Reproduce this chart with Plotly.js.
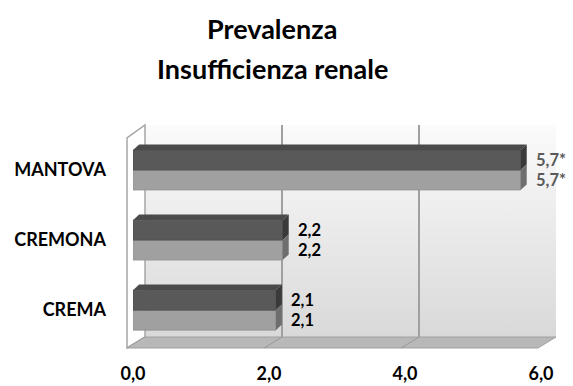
<!DOCTYPE html>
<html>
<head>
<meta charset="utf-8">
<script src="https://cdn.plot.ly/plotly-3.0.1.min.js"></script>
<style>html,body{margin:0;padding:0;background:#fff;}#chart{width:573px;height:386px;}</style>
</head>
<body>
<div id="chart"></div>
<script>
// ---- data ----
const categories = ['CREMA', 'CREMONA', 'MANTOVA'];
const seriesDark = [2.1, 2.2, 5.7];
const seriesLight = [2.1, 2.2, 5.7];
const labelsDark = ['2,1', '2,2', '5,7*'];
const labelsLight = ['2,1', '2,2', '5,7*'];
const labelColors = ['#000000', '#000000', '#5a5a5a'];
const xTickVals = [0, 2, 4, 6];
const xTickText = ['0,0', '2,0', '4,0', '6,0'];
const titleLines = ['Prevalenza', 'Insufficienza renale'];

// ---- geometry (pixels) ----
const W = 573, H = 386;
const L = 133, R = 556, T = 125, B = 348;
const pw = R - L, ph = B - T;
const px = p => (p - L) / pw;
const py = p => (B - p) / ph;
const FONT = 'Lato, "Open Sans", sans-serif';

const backX = [px(145), 1];
const backY = [py(337), 1];
const frontX = [0, px(541)];
const frontY = [0, py(135)];

const BARGAP = 0.43;
const barW = (1 - BARGAP) / 2;   // width of one bar in category units
const DX = 0.09, DY = 0.08;       // 3D depth of bars (data units)

const grad = 'data:image/svg+xml;utf8,' + encodeURIComponent(
  '<svg xmlns="http://www.w3.org/2000/svg" width="100" height="100" preserveAspectRatio="none">' +
  '<defs><linearGradient id="g" x1="0" y1="0" x2="0" y2="1">' +
  '<stop offset="0" stop-color="#fbfbfb"/><stop offset="1" stop-color="#d9d9d9"/></linearGradient></defs>' +
  '<rect width="100" height="100" fill="url(#g)"/></svg>');

const traces = [
  {x: [null], y: [null], xaxis: 'x', yaxis: 'y', type: 'scatter', mode: 'markers', showlegend: false, hoverinfo: 'skip'},
  {type: 'bar', orientation: 'h', y: categories, x: seriesLight, xaxis: 'x2', yaxis: 'y2',
   marker: {color: '#a0a0a0', line: {color: '#929292', width: 0.8}}, showlegend: false, hoverinfo: 'skip'},
  {type: 'bar', orientation: 'h', y: categories, x: seriesDark, xaxis: 'x2', yaxis: 'y2',
   marker: {color: '#595959', line: {color: '#4e4e4e', width: 0.8}}, showlegend: false, hoverinfo: 'skip'}
];

const annotations = [];
categories.forEach((c, i) => {
  annotations.push({xref: 'x2', yref: 'y2', x: seriesDark[i], y: c, text: labelsDark[i], showarrow: false,
    xanchor: 'left', yanchor: 'middle', xshift: 14, yshift: 10.5, borderpad: 0,
    font: {family: FONT, size: 16.5, color: labelColors[i], weight: 'bold'}});
  annotations.push({xref: 'x2', yref: 'y2', x: seriesLight[i], y: c, text: labelsLight[i], showarrow: false,
    xanchor: 'left', yanchor: 'middle', xshift: 14, yshift: -10, borderpad: 0,
    font: {family: FONT, size: 16.5, color: labelColors[i], weight: 'bold'}});
});
annotations.push({xref: 'paper', yref: 'paper', x: px(272), y: py(28), text: titleLines[0], showarrow: false,
  xanchor: 'center', yanchor: 'middle', font: {family: FONT, size: 27, color: '#000', weight: 'bold'}});
annotations.push({xref: 'paper', yref: 'paper', x: px(272), y: py(69), text: titleLines[1], showarrow: false,
  xanchor: 'center', yanchor: 'middle', font: {family: FONT, size: 27, color: '#000', weight: 'bold'}});

const P = (a, b) => px(a) + ',' + py(b);
const shapes = [
  // left side wall
  {type: 'path', xref: 'paper', yref: 'paper', layer: 'below',
   path: 'M' + P(127, 348) + ' L' + P(127, 138) + ' L' + P(145, 125) + ' L' + P(145, 337) + ' Z',
   fillcolor: '#ffffff', line: {color: '#a6a6a6', width: 1.5}},
  // floor
  {type: 'path', xref: 'paper', yref: 'paper', layer: 'below',
   path: 'M' + P(127, 348) + ' L' + P(538, 348) + ' L' + P(556, 337) + ' L' + P(145, 337) + ' Z',
   fillcolor: '#b8b8b8', line: {color: '#a0a0a0', width: 1}},
  {type: 'line', xref: 'paper', yref: 'paper', layer: 'below', x0: px(264), y0: py(348), x1: px(282), y1: py(337), line: {color: '#999', width: 1}},
  {type: 'line', xref: 'paper', yref: 'paper', layer: 'below', x0: px(401), y0: py(348), x1: px(419), y1: py(337), line: {color: '#999', width: 1}}
];

// 3D faces of the bars, positioned from the data through the axes
categories.forEach((c, i) => {
  const vd = seriesDark[i], vl = seriesLight[i];
  const top = i + barW, mid = i, bot = i - barW;
  shapes.push({type: 'path', xref: 'x2', yref: 'y2', layer: 'above',
    path: `M0,${top} L${vd},${top} L${vd + DX},${top + DY} L${DX},${top + DY} Z`,
    fillcolor: '#4b4b4b', line: {width: 0}});
  shapes.push({type: 'path', xref: 'x2', yref: 'y2', layer: 'above',
    path: `M${vd},${mid} L${vd},${top} L${vd + DX},${top + DY} L${vd + DX},${mid + DY} Z`,
    fillcolor: '#3a3a3a', line: {width: 0}});
  shapes.push({type: 'path', xref: 'x2', yref: 'y2', layer: 'above',
    path: `M${vl},${bot} L${vl},${mid} L${vl + DX},${mid + DY} L${vl + DX},${bot + DY} Z`,
    fillcolor: '#6e6e6e', line: {width: 0}});
});

const layout = {
  width: W, height: H,
  margin: {l: L, r: W - R, t: T, b: H - B, pad: 0},
  paper_bgcolor: '#ffffff', plot_bgcolor: 'rgba(0,0,0,0)',
  font: {family: FONT, color: '#000'},
  showlegend: false,
  barmode: 'group', bargap: BARGAP, bargroupgap: 0,
  images: [{source: grad, xref: 'paper', yref: 'paper', x: backX[0], y: 1, sizex: 1 - backX[0], sizey: 1 - backY[0],
    sizing: 'stretch', xanchor: 'left', yanchor: 'top', layer: 'below'}],
  xaxis: {domain: backX, anchor: 'y', range: [0, 6], tickvals: xTickVals, showticklabels: false,
    showgrid: true, gridcolor: '#a0a0a0', gridwidth: 1.5, zeroline: false, showline: false, ticks: '', fixedrange: true},
  yaxis: {domain: backY, anchor: 'x', range: [0, 1], showgrid: false, zeroline: false, showticklabels: false, ticks: '', showline: false},
  xaxis2: {domain: frontX, anchor: 'y2', range: [0, 6], tickvals: xTickVals, ticktext: xTickText,
    showgrid: false, zeroline: false, showline: false, ticks: '', ticklabelstandoff: 13,
    tickfont: {family: FONT, size: 18, color: '#000', weight: 'bold'}},
  yaxis2: {domain: frontY, anchor: 'x2', type: 'category', categoryorder: 'array', categoryarray: categories,
    range: [-0.54, 2.5], showgrid: false, zeroline: false, showline: false, ticks: '', ticklabelstandoff: 26,
    tickfont: {family: FONT, size: 18, color: '#000', weight: 'bold'}},
  annotations: annotations,
  shapes: shapes
};

Plotly.newPlot('chart', traces, layout, {staticPlot: true, displayModeBar: false});
</script>
</body>
</html>
